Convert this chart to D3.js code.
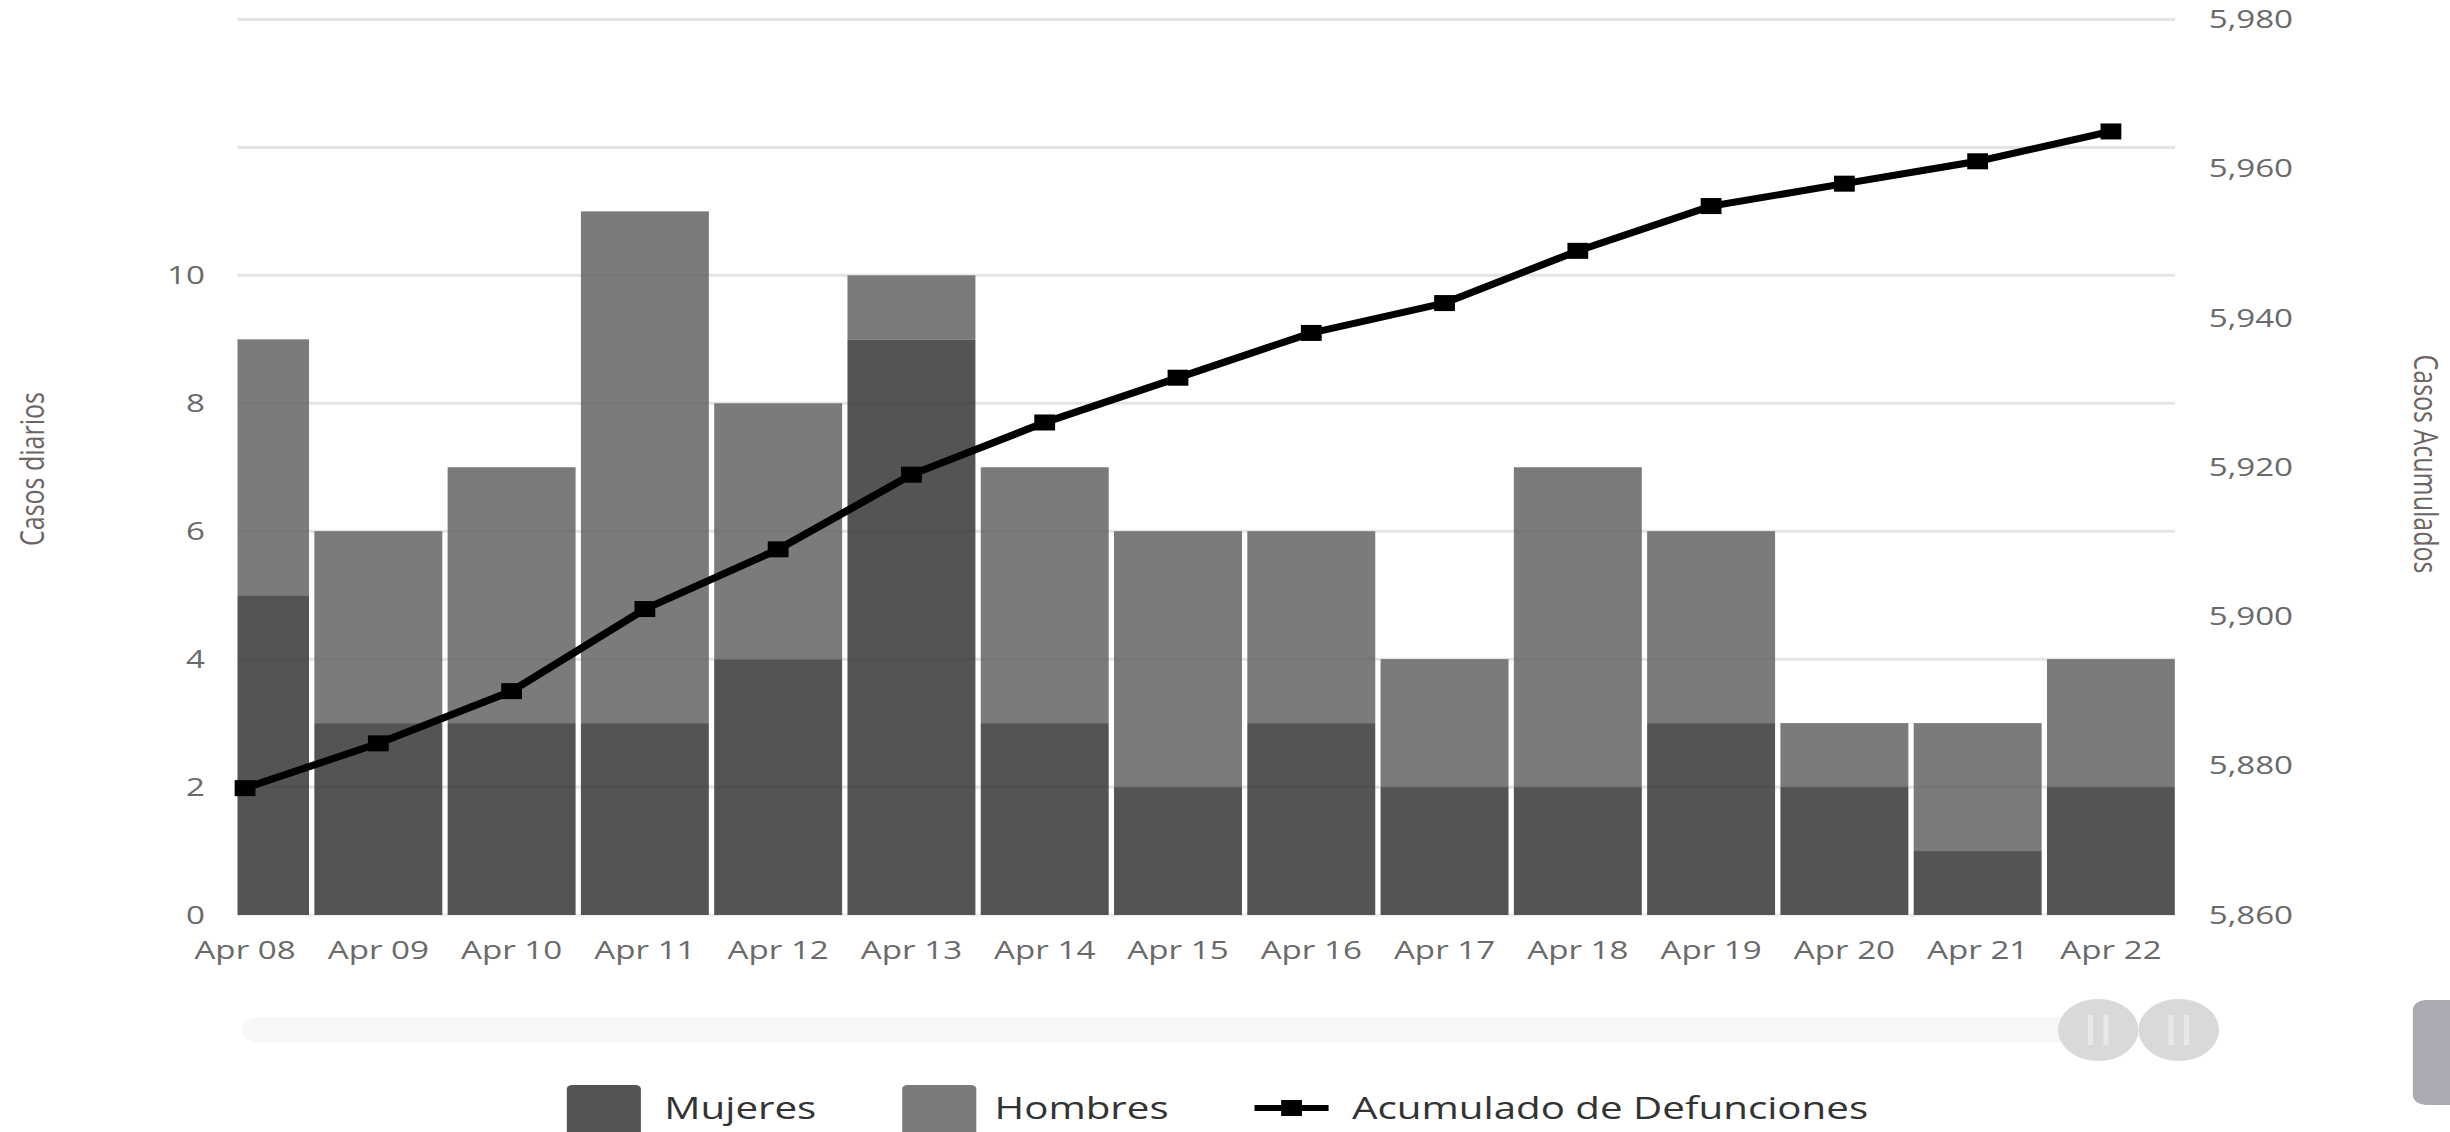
<!DOCTYPE html>
<html>
<head>
<meta charset="utf-8">
<script src="https://cdnjs.cloudflare.com/ajax/libs/d3/7.8.5/d3.min.js"></script>
<style>
body { margin:0; background:#fff; }
text { font-family: "Open Sans", sans-serif; }
</style>
</head>
<body>
<script>
var fechas = ["Apr 08","Apr 09","Apr 10","Apr 11","Apr 12","Apr 13","Apr 14","Apr 15",
              "Apr 16","Apr 17","Apr 18","Apr 19","Apr 20","Apr 21","Apr 22"];
var mujeres = [5,3,3,3,4,9,3,2,3,2,2,3,2,1,2];
var hombres = [4,3,4,8,4,1,4,4,3,2,5,3,1,2,2];
var acumulado = [5877,5883,5890,5901,5909,5919,5926,5932,5938,5942,5949,5955,5958,5961,5965];
var ticksIzq = [0,2,4,6,8,10];
var gridIzq = [0,2,4,6,8,10,12,14];
var ticksDer = [5860,5880,5900,5920,5940,5960,5980];

// the picture is stretched sideways, so draw in a narrower box and stretch it
var stretch = 1.3;
var totalWidth = 2450, totalHeight = 1132;
var W = totalWidth / stretch;

var plot = {left:182.7, right:1673, top:19.5, bottom:915};

var svg = d3.select("body").append("svg")
  .attr("width", totalWidth)
  .attr("height", totalHeight)
  .attr("viewBox", "0 0 " + W + " " + totalHeight)
  .attr("preserveAspectRatio", "none");

var step = (plot.right - 49.2 - 188.5) / 14;
var x = d3.scaleBand()
  .domain(fechas)
  .range([188.5 - step/2, 188.5 + 14*step + step/2])
  .paddingInner(0.04)
  .paddingOuter(0.02);

var yL = d3.scaleLinear().domain([0,14]).range([plot.bottom, plot.top]);
var yR = d3.scaleLinear().domain([5860,5980]).range([plot.bottom, plot.top]);

svg.append("clipPath").attr("id","clip")
  .append("rect")
  .attr("x", plot.left).attr("y", 0)
  .attr("width", plot.right - plot.left).attr("height", plot.bottom + 2);

// grid
svg.append("g").selectAll("line")
  .data(gridIzq)
  .enter().append("line")
  .attr("x1", plot.left).attr("x2", plot.right)
  .attr("y1", function(d){ return yL(d); })
  .attr("y2", function(d){ return yL(d); })
  .attr("stroke", "#eeeeee")
  .attr("stroke-width", 3);

// stacked bars
var datos = fechas.map(function(f, i){ return {fecha:f, m:mujeres[i], h:hombres[i]}; });
var barras = svg.append("g").attr("clip-path", "url(#clip)");

barras.selectAll(".m")
  .data(datos)
  .enter().append("rect")
  .attr("class","m")
  .attr("x", function(d){ return x(d.fecha); })
  .attr("width", x.bandwidth())
  .attr("y", function(d){ return yL(d.m); })
  .attr("height", function(d){ return yL(0) - yL(d.m); })
  .attr("fill", "#545454");

barras.selectAll(".h")
  .data(datos)
  .enter().append("rect")
  .attr("class","h")
  .attr("x", function(d){ return x(d.fecha); })
  .attr("width", x.bandwidth())
  .attr("y", function(d){ return yL(d.m + d.h); })
  .attr("height", function(d){ return yL(d.m) - yL(d.m + d.h); })
  .attr("fill", "#7b7b7b");

// faint grid showing through bars
barras.selectAll(".g2")
  .data(gridIzq.slice(1))
  .enter().append("line")
  .attr("x1", plot.left).attr("x2", plot.right)
  .attr("y1", function(d){ return yL(d); })
  .attr("y2", function(d){ return yL(d); })
  .attr("stroke", "rgba(0,0,0,0.04)")
  .attr("stroke-width", 3);

// cumulative line
var cx = function(i){ return x(fechas[i]) + x.bandwidth()/2; };
var linea = d3.line()
  .x(function(d, i){ return cx(i); })
  .y(function(d){ return yR(d); });

svg.append("path")
  .datum(acumulado)
  .attr("d", linea)
  .attr("fill", "none")
  .attr("stroke", "#000")
  .attr("stroke-width", 7);

svg.selectAll(".mk")
  .data(acumulado)
  .enter().append("rect")
  .attr("class","mk")
  .attr("x", function(d, i){ return cx(i) - 8; })
  .attr("y", function(d){ return yR(d) - 8; })
  .attr("width", 16).attr("height", 16)
  .attr("fill", "#000");

// axes
var axL = svg.append("g")
  .attr("transform", "translate(" + plot.left + ",0)")
  .call(d3.axisLeft(yL).tickValues(ticksIzq).tickSize(0).tickPadding(25));
axL.select(".domain").remove();

var axR = svg.append("g")
  .attr("transform", "translate(" + plot.right + ",0)")
  .call(d3.axisRight(yR).tickValues(ticksDer).tickSize(0).tickPadding(26).tickFormat(d3.format(",")));
axR.select(".domain").remove();

var axB = svg.append("g")
  .attr("transform", "translate(0," + plot.bottom + ")")
  .call(d3.axisBottom(x).tickSize(0));
axB.select(".domain").remove();
axB.selectAll("text").attr("dy", null).attr("y", 44);

svg.selectAll(".tick text")
  .attr("font-family", "Open Sans")
  .attr("font-size", 25.5)
  .attr("fill", "#6a6a6a");

// axis titles
svg.append("text")
  .attr("transform", "translate(24,469) rotate(-90)")
  .attr("text-anchor", "middle")
  .attr("dominant-baseline", "central")
  .attr("font-size", 25)
  .attr("fill", "#6e6464")
  .text("Casos diarios");

svg.append("text")
  .attr("transform", "translate(1867,464) rotate(90)")
  .attr("text-anchor", "middle")
  .attr("dominant-baseline", "central")
  .attr("font-size", 25)
  .attr("fill", "#6e6464")
  .text("Casos Acumulados");

// navigator
svg.append("rect")
  .attr("x", 186).attr("y", 1017)
  .attr("width", 1611 - 186).attr("height", 26)
  .attr("rx", 13)
  .attr("fill", "#f7f7f7");

[1614, 1676].forEach(function(c){
  svg.append("circle").attr("cx", c).attr("cy", 1030).attr("r", 31).attr("fill", "#d9d9d9");
  [-6, 6].forEach(function(o){
    svg.append("line")
      .attr("x1", c + o).attr("x2", c + o)
      .attr("y1", 1015).attr("y2", 1045)
      .attr("stroke", "#e8e8e8").attr("stroke-width", 4);
  });
});

svg.append("rect")
  .attr("x", 1856).attr("y", 1000)
  .attr("width", 40).attr("height", 105)
  .attr("rx", 10)
  .attr("fill", "#abacb3");

// legend
var ley = svg.append("g");
ley.append("rect").attr("x", 436).attr("y", 1085).attr("width", 57).attr("height", 57).attr("rx", 4).attr("fill", "#545454");
ley.append("text").attr("x", 511).attr("y", 1119).attr("font-size", 31).attr("fill", "#333").text("Mujeres");
ley.append("rect").attr("x", 694).attr("y", 1085).attr("width", 57).attr("height", 57).attr("rx", 4).attr("fill", "#7b7b7b");
ley.append("text").attr("x", 765).attr("y", 1119).attr("font-size", 31).attr("fill", "#333").text("Hombres");
ley.append("line").attr("x1", 965).attr("x2", 1022).attr("y1", 1108).attr("y2", 1108)
  .attr("stroke", "#000").attr("stroke-width", 6);
ley.append("rect").attr("x", 985.5).attr("y", 1100).attr("width", 16).attr("height", 16).attr("fill", "#000");
ley.append("text").attr("x", 1040).attr("y", 1119).attr("font-size", 31).attr("fill", "#333").text("Acumulado de Defunciones");
</script>
</body>
</html>
